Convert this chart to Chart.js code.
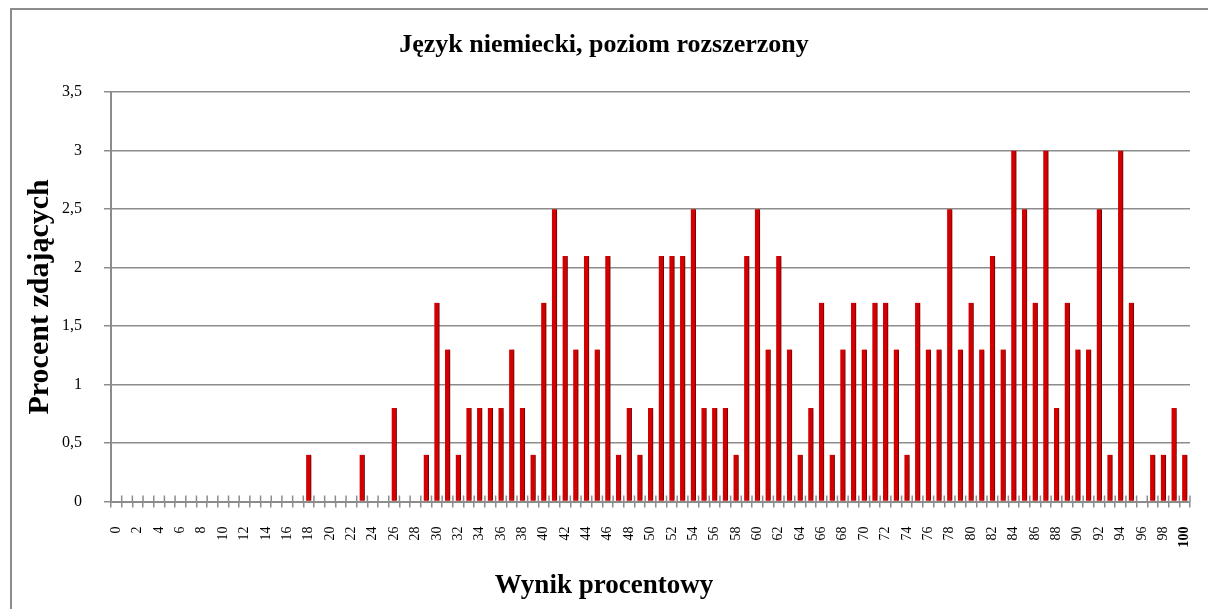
<!DOCTYPE html>
<html>
<head>
<meta charset="utf-8">
<script src="https://cdn.jsdelivr.net/npm/chart.js@4"></script>
<style>
    body { margin: 0; background: #fff; }
    #wrap { position: relative; width: 1208px; height: 609px; overflow: hidden; }
    #frame { position: absolute; left: 10px; top: 8px; width: 1300px; height: 700px;
             border-left: 2px solid #8c8c8c; border-top: 2px solid #8c8c8c; }
    #chart-box { position: absolute; left: 0; top: 0; width: 1208px; height: 609px; }
</style>
</head>
<body>
<div id="wrap">
    <div id="frame"></div>
    <div id="chart-box"><canvas id="chart"></canvas></div>
</div>
<script>
// Wynik procentowy (0..100)
const scores = [
    0, 1, 2, 3, 4, 5, 6, 7, 8, 9,
    10, 11, 12, 13, 14, 15, 16, 17, 18, 19,
    20, 21, 22, 23, 24, 25, 26, 27, 28, 29,
    30, 31, 32, 33, 34, 35, 36, 37, 38, 39,
    40, 41, 42, 43, 44, 45, 46, 47, 48, 49,
    50, 51, 52, 53, 54, 55, 56, 57, 58, 59,
    60, 61, 62, 63, 64, 65, 66, 67, 68, 69,
    70, 71, 72, 73, 74, 75, 76, 77, 78, 79,
    80, 81, 82, 83, 84, 85, 86, 87, 88, 89,
    90, 91, 92, 93, 94, 95, 96, 97, 98, 99,
    100
];

// Procent zdających dla kazdego wyniku
const percentages = [
    0, 0, 0, 0, 0, 0, 0, 0, 0, 0,
    0, 0, 0, 0, 0, 0, 0, 0, 0.4, 0,
    0, 0, 0, 0.4, 0, 0, 0.8, 0, 0, 0.4,
    1.7, 1.3, 0.4, 0.8, 0.8, 0.8, 0.8, 1.3, 0.8, 0.4,
    1.7, 2.5, 2.1, 1.3, 2.1, 1.3, 2.1, 0.4, 0.8, 0.4,
    0.8, 2.1, 2.1, 2.1, 2.5, 0.8, 0.8, 0.8, 0.4, 2.1,
    2.5, 1.3, 2.1, 1.3, 0.4, 0.8, 1.7, 0.4, 1.3, 1.7,
    1.3, 1.7, 1.7, 1.3, 0.4, 1.7, 1.3, 1.3, 2.5, 1.3,
    1.7, 1.3, 2.1, 1.3, 3.0, 2.5, 1.7, 3.0, 0.8, 1.7,
    1.3, 1.3, 2.5, 0.4, 3.0, 1.7, 0, 0.4, 0.4, 0.8,
    0.4
];

const yMin = 0;
const yMax = 3.5;
const yStep = 0.5;

const gridColor = '#8c8c8c';
const serif = '"Liberation Serif", "Times New Roman", serif';

// Soft grey shadow to the right of the bars (like the Excel 3D look)
const barShadow = {
    id: 'barShadow',
    beforeDatasetsDraw(chart) {
        const ctx = chart.ctx;
        ctx.save();
        ctx.shadowColor = 'rgba(0, 0, 0, 0.4)';
        ctx.shadowOffsetX = 4;
        ctx.shadowOffsetY = 0;
        ctx.shadowBlur = 5;
    },
    afterDatasetsDraw(chart) {
        chart.ctx.restore();
    }
};

// Tick marks on the x axis cross the axis line (upper half drawn here)
const crossTicks = {
    id: 'crossTicks',
    afterDraw(chart) {
        const x = chart.scales.x;
        const ctx = chart.ctx;
        const n = x.ticks.length;
        ctx.save();
        ctx.strokeStyle = gridColor;
        ctx.lineWidth = 1.5;
        ctx.beginPath();
        for (let i = 0; i <= n; i++) {
            let px;
            if (i === 0) px = x.left;
            else if (i === n) px = x.right;
            else px = (x.getPixelForTick(i - 1) + x.getPixelForTick(i)) / 2;
            ctx.moveTo(px, x.top - 6);
            ctx.lineTo(px, x.top);
        }
        ctx.stroke();
        ctx.restore();
    }
};

const ctx = document.getElementById('chart');

new Chart(ctx, {
    type: 'bar',
    data: {
        labels: scores,
        datasets: [{
            label: 'Procent zdających',
            data: percentages,
            backgroundColor: '#d20000',
            borderColor: '#9a0000',
            borderWidth: { left: 0, right: 1, top: 0, bottom: 0 },
            borderSkipped: false,
            barThickness: 5
        }]
    },
    plugins: [barShadow, crossTicks],
    options: {
        responsive: true,
        maintainAspectRatio: false,
        animation: false,
        layout: {
            padding: { left: 0, right: 0, top: 0, bottom: 0 }
        },
        plugins: {
            legend: { display: false },
            tooltip: { enabled: false },
            title: {
                display: true,
                text: 'Język niemiecki, poziom rozszerzony',
                color: '#000',
                font: { family: serif, size: 26, weight: 'bold' },
                padding: { top: 30, bottom: 31 }
            },
            subtitle: {
                display: true,
                position: 'bottom',
                text: 'Wynik procentowy',
                color: '#000',
                font: { family: serif, size: 27, weight: 'bold' },
                padding: { top: 4, bottom: 7 }
            }
        },
        scales: {
            x: {
                grid: {
                    display: true,
                    drawOnChartArea: false,
                    drawTicks: true,
                    tickLength: 6,
                    color: gridColor,
                    lineWidth: 1.5
                },
                border: { color: gridColor, width: 2 },
                ticks: {
                    autoSkip: false,
                    maxRotation: 90,
                    minRotation: 90,
                    padding: 19,
                    color: '#000',
                    font: (c) => ({
                        family: serif,
                        size: 14,
                        weight: c.index === scores.length - 1 ? 'bold' : 'normal'
                    }),
                    callback: function (value, index) {
                        return index % 2 === 0 ? String(scores[index]) : '';
                    }
                },
                afterFit: function (scale) {
                    scale.height = 64;
                    scale.paddingLeft = 0;
                    scale.paddingRight = 18;
                }
            },
            y: {
                min: yMin,
                max: yMax,
                grid: {
                    color: gridColor,
                    lineWidth: 1.5,
                    tickLength: 7
                },
                border: { color: gridColor, width: 2 },
                ticks: {
                    stepSize: yStep,
                    padding: 22,
                    color: '#000',
                    font: { family: serif, size: 16 },
                    callback: function (value) {
                        return String(value).replace('.', ',');
                    }
                },
                title: {
                    display: true,
                    text: 'Procent zdających',
                    color: '#000',
                    font: { family: serif, size: 30, weight: 'bold' },
                    padding: { top: 22, bottom: 0 }
                },
                afterFit: function (scale) {
                    scale.width = 111;
                }
            }
        }
    }
});
</script>
</body>
</html>
